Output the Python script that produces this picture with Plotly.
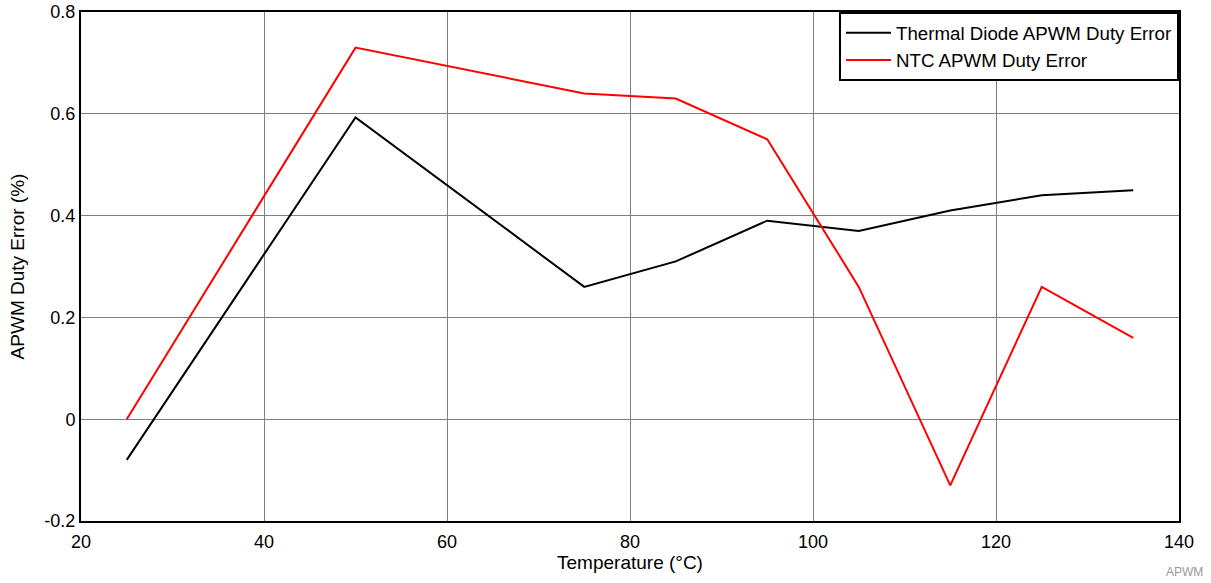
import plotly.graph_objects as go

temps = [25, 50, 75, 85, 95, 105, 115, 125, 135]
diode_err = [-0.08, 0.593, 0.26, 0.31, 0.39, 0.37, 0.41, 0.44, 0.45]
ntc_err = [0.0, 0.73, 0.64, 0.63, 0.55, 0.26, -0.13, 0.26, 0.16]
y_ticks = [-0.2, 0, 0.2, 0.4, 0.6, 0.8]
y_ticktext = ["-0.2", "0", "0.2", "0.4", "0.6", "0.8"]

fig = go.Figure()
fig.add_trace(go.Scatter(x=temps, y=diode_err, mode="lines",
                         name="Thermal Diode APWM Duty Error",
                         line=dict(color="black", width=2)))
fig.add_trace(go.Scatter(x=temps, y=ntc_err, mode="lines",
                         name="NTC APWM Duty Error",
                         line=dict(color="#ff0000", width=2)))

axis_style = dict(showline=True, linecolor="black", linewidth=2, mirror=True,
                  showgrid=True, gridcolor="#7f7f7f", gridwidth=1,
                  zeroline=False, ticks="", automargin=False,
                  tickfont=dict(size=18, color="black"),
                  title_font=dict(size=19, color="black"))

fig.update_layout(
    width=1211, height=583,
    margin=dict(l=81, r=32, t=12, b=62),
    plot_bgcolor="white", paper_bgcolor="white",
    font=dict(family="Liberation Sans, Arial, sans-serif", size=18, color="black"),
    xaxis=dict(range=[20, 140], dtick=20, ticklabelstandoff=3,
               title=dict(text="Temperature (°C)", standoff=5), **axis_style),
    yaxis=dict(range=[-0.2, 0.8], tickvals=y_ticks, ticktext=y_ticktext,
               title=dict(text="APWM Duty Error (%)", standoff=15), **axis_style),
    legend=dict(x=1, y=1, xanchor="right", yanchor="top",
                bordercolor="black", borderwidth=2, bgcolor="white",
                font=dict(size=18.7), itemwidth=45, tracegroupgap=0),
    showlegend=True,
)
fig.add_annotation(text="APWM", xref="paper", yref="paper", x=1.0237, y=-0.10,
                   xanchor="right", yanchor="middle", showarrow=False,
                   font=dict(size=12, color="#999999"))

# drop the default 8px body margin so the figure sits at the window's corner
fig.write_html("out.html", config={"displayModeBar": False},
               post_script="document.body.style.margin='0';")
